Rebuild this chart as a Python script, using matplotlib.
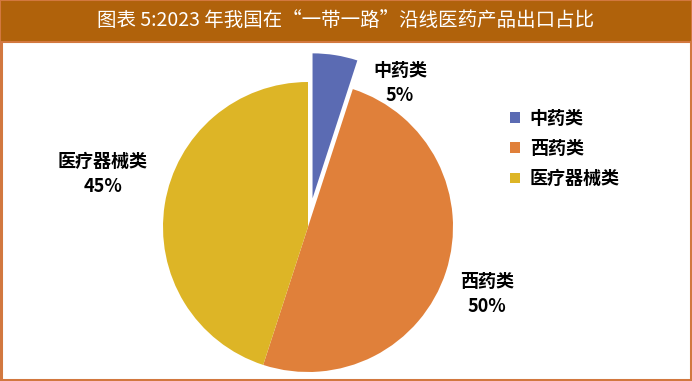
import matplotlib
matplotlib.use("Agg")
import matplotlib.pyplot as plt
from matplotlib.patches import Rectangle

plt.rcParams['font.family'] = ['Noto Sans CJK SC', 'DejaVu Sans']

# -------------------------------
# DATA
# -------------------------------
title = "图表 5:2023 年我国在“一带一路”沿线医药产品出口占比"
categories = ["中药类", "西药类", "医疗器械类"]
shares = [5, 50, 45]
colors = ["#5B6BB3", "#E0803A", "#DDB526"]
explode = [0.2, 0, 0]

W, H = 692, 381
fig = plt.figure(figsize=(W / 100, H / 100), dpi=100)

# frame + title band
fig.patches.append(Rectangle((0.002, 0.003), 0.996, 0.994, transform=fig.transFigure,
                             fill=False, edgecolor="#D2783F", linewidth=2.2, zorder=0))
band_h = 42 / H
fig.patches.append(Rectangle((0, 1 - band_h), 1, band_h, transform=fig.transFigure,
                             facecolor="#B0620B", edgecolor="#D2783F", linewidth=1.5, zorder=1))
fig.text(0.5, 1 - 20 / H, title, color="white", fontsize=14,
         ha="center", va="center", zorder=2)

# -------------------------------
# PIE
# -------------------------------
cx, cy, R = 308, 227, 145
x0, x1 = -1.2, 1.2
y0, y1 = -1.03, 1.3
ax = fig.add_axes([(cx + x0 * R) / W, (H - cy + y0 * R) / H,
                   (x1 - x0) * R / W, (y1 - y0) * R / H])
wedges, _ = ax.pie(shares, colors=colors, explode=explode, startangle=90,
                   counterclock=False, radius=1.0,
                   wedgeprops=dict(linewidth=0))
ax.set_xlim(x0, x1)
ax.set_ylim(y0, y1)
ax.axis("off")

label_pos = [((400 - cx) / R, (cy - 83) / R),
             ((487 - cx) / R, (cy - 294) / R),
             ((103 - cx) / R, (cy - 174) / R)]
for name, val, (lx, ly) in zip(categories, shares, label_pos):
    ax.text(lx, ly, f"{name}\n{val}%", ha="center", va="center",
            fontsize=13, fontweight="bold", linespacing=1.4)

fig.legend(wedges, categories, loc="upper left",
           bbox_to_anchor=(510 / W, 1 - 109 / H), frameon=False,
           prop=dict(size=13, weight="bold"), borderaxespad=0, borderpad=0,
           handlelength=0.55, handleheight=0.55, handletextpad=0.55,
           labelspacing=0.62)

fig.savefig("out.png", dpi=100)
